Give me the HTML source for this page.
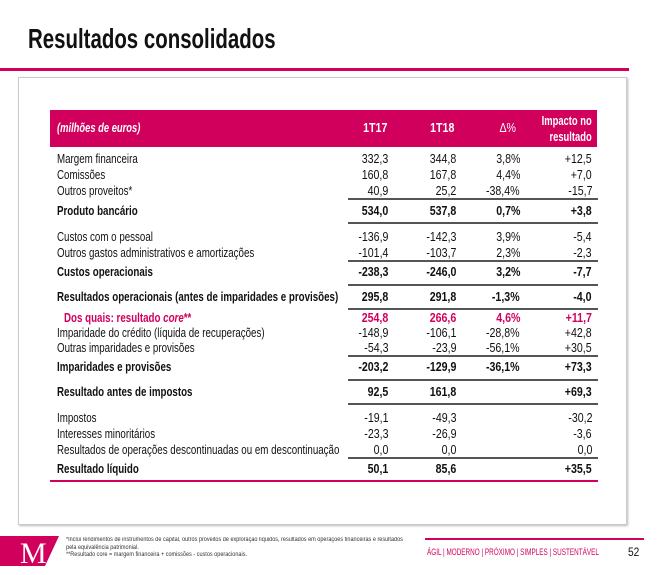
<!DOCTYPE html>
<html><head><meta charset="utf-8"><style>
body{margin:0;width:661px;height:575px;background:#fff;position:relative;overflow:hidden;font-family:"Liberation Sans",sans-serif;color:#111}
.a{position:absolute;white-space:nowrap}
.t{position:absolute;left:28px;top:23px;font-size:28px;font-weight:bold;transform:scaleX(.73);transform-origin:left;color:#111}
.r{position:absolute;left:0;width:661px;height:16px;line-height:16px;font-size:12.5px}
.l{position:absolute;left:57px;transform:scaleX(.78);transform-origin:left}
.n{position:absolute;transform:scaleX(.85);transform-origin:right;text-align:right}
.c1{right:273px}.c2{right:205px}.c3{right:141px}.c4{right:69px}
.b{font-weight:bold}
.p{color:#d1005c}
.g{position:absolute;left:348px;width:250px;height:2px;background:#555}
</style></head><body>
<div class="t">Resultados consolidados</div>
<div class="a" style="left:0;top:68px;width:629px;height:3px;background:#d1005c"></div>
<div class="a" style="left:18px;top:77px;width:607px;height:446px;border:1px solid #ccc;box-shadow:1px 1px 2px #bbb"></div>
<div class="a" style="left:50px;top:110px;width:547px;height:37px;background:#d1005c"></div>
<div class="a" style="left:57px;top:121px;color:#fff;font-style:italic;font-weight:bold;font-size:12.5px;transform:scaleX(.75);transform-origin:left">(milhões de euros)</div>
<div class="a" style="left:361px;top:121px;color:#fff;font-weight:bold;font-size:12.5px;transform:scaleX(.85)">1T17</div>
<div class="a" style="left:428px;top:121px;color:#fff;font-weight:bold;font-size:12.5px;transform:scaleX(.85)">1T18</div>
<div class="a" style="left:498px;top:121px;color:#fff;font-size:12.5px;transform:scaleX(.85)">Δ%</div>
<div class="a" style="right:69px;top:113px;color:#fff;font-size:12.5px;font-weight:bold;text-align:right;line-height:16px;transform:scaleX(.75);transform-origin:right">Impacto no<br>resultado</div>

<div class="r" style="top:151px"><span class="l">Margem financeira</span><span class="n c1">332,3</span><span class="n c2">344,8</span><span class="n c3">3,8%</span><span class="n c4">+12,5</span></div>
<div class="r" style="top:167px"><span class="l">Comissões</span><span class="n c1">160,8</span><span class="n c2">167,8</span><span class="n c3">4,4%</span><span class="n c4">+7,0</span></div>
<div class="r" style="top:183px"><span class="l">Outros proveitos*</span><span class="n c1">40,9</span><span class="n c2">25,2</span><span class="n c3">-38,4%</span><span class="n c4">-15,7</span></div>
<div class="g" style="top:198px"></div>
<div class="r b" style="top:203px"><span class="l">Produto bancário</span><span class="n c1">534,0</span><span class="n c2">537,8</span><span class="n c3">0,7%</span><span class="n c4">+3,8</span></div>
<div class="g" style="top:222px"></div>
<div class="r" style="top:229px"><span class="l">Custos com o pessoal</span><span class="n c1">-136,9</span><span class="n c2">-142,3</span><span class="n c3">3,9%</span><span class="n c4">-5,4</span></div>
<div class="r" style="top:245px"><span class="l">Outros gastos administrativos e amortizações</span><span class="n c1">-101,4</span><span class="n c2">-103,7</span><span class="n c3">2,3%</span><span class="n c4">-2,3</span></div>
<div class="g" style="top:260px"></div>
<div class="r b" style="top:264px"><span class="l">Custos operacionais</span><span class="n c1">-238,3</span><span class="n c2">-246,0</span><span class="n c3">3,2%</span><span class="n c4">-7,7</span></div>
<div class="g" style="top:284px"></div>
<div class="r b" style="top:289px"><span class="l">Resultados operacionais (antes de imparidades e provisões)</span><span class="n c1">295,8</span><span class="n c2">291,8</span><span class="n c3">-1,3%</span><span class="n c4">-4,0</span></div>
<div class="g" style="top:308px"></div>
<div class="r b p" style="top:310px"><span class="l" style="left:64px">Dos quais: resultado <i>core</i>**</span><span class="n c1">254,8</span><span class="n c2">266,6</span><span class="n c3">4,6%</span><span class="n c4">+11,7</span></div>
<div class="r" style="top:325px"><span class="l">Imparidade do crédito (líquida de recuperações)</span><span class="n c1">-148,9</span><span class="n c2">-106,1</span><span class="n c3">-28,8%</span><span class="n c4">+42,8</span></div>
<div class="r" style="top:340px"><span class="l">Outras imparidades e provisões</span><span class="n c1">-54,3</span><span class="n c2">-23,9</span><span class="n c3">-56,1%</span><span class="n c4">+30,5</span></div>
<div class="g" style="top:355px"></div>
<div class="r b" style="top:359px"><span class="l">Imparidades e provisões</span><span class="n c1">-203,2</span><span class="n c2">-129,9</span><span class="n c3">-36,1%</span><span class="n c4">+73,3</span></div>
<div class="g" style="top:379px"></div>
<div class="r b" style="top:384px"><span class="l">Resultado antes de impostos</span><span class="n c1">92,5</span><span class="n c2">161,8</span><span class="n c4">+69,3</span></div>
<div class="g" style="top:403px"></div>
<div class="r" style="top:410px"><span class="l">Impostos</span><span class="n c1">-19,1</span><span class="n c2">-49,3</span><span class="n c4">-30,2</span></div>
<div class="r" style="top:426px"><span class="l">Interesses minoritários</span><span class="n c1">-23,3</span><span class="n c2">-26,9</span><span class="n c4">-3,6</span></div>
<div class="r" style="top:442px"><span class="l">Resultados de operações descontinuadas ou em descontinuação</span><span class="n c1">0,0</span><span class="n c2">0,0</span><span class="n c4">0,0</span></div>
<div class="g" style="top:457px"></div>
<div class="r b" style="top:461px"><span class="l">Resultado líquido</span><span class="n c1">50,1</span><span class="n c2">85,6</span><span class="n c4">+35,5</span></div>
<div class="a" style="left:50px;top:480px;width:548px;height:2px;background:#d1005c"></div>

<svg class="a" style="left:0;top:536px" width="60" height="30"><polygon points="0,0 59,0 45,30 0,30" fill="#d1005c"/><text x="20" y="27" font-family="Liberation Serif,serif" font-size="30" fill="#fff">M</text></svg>
<div class="a" style="left:66px;top:537px;font-size:6px;line-height:7.5px;color:#333;transform:scaleX(.92);transform-origin:left">*Inclui rendimentos de instrumentos de capital, outros proveitos de exploração líquidos, resultados em operações financeiras e resultados<br>pela equivalência patrimonial.<br>**Resultado core = margem financeira + comissões - custos operacionais.</div>
<div class="a" style="left:425px;top:538px;width:219px;height:2px;background:#d1005c"></div>
<div class="a p" style="left:427px;top:547px;font-size:9.5px;transform:scaleX(.67);transform-origin:left">ÁGIL | MODERNO | PRÓXIMO | SIMPLES | SUSTENTÁVEL</div>
<div class="a" style="left:627px;top:545px;font-size:12px;transform:scaleX(.85)">52</div>
</body></html>
